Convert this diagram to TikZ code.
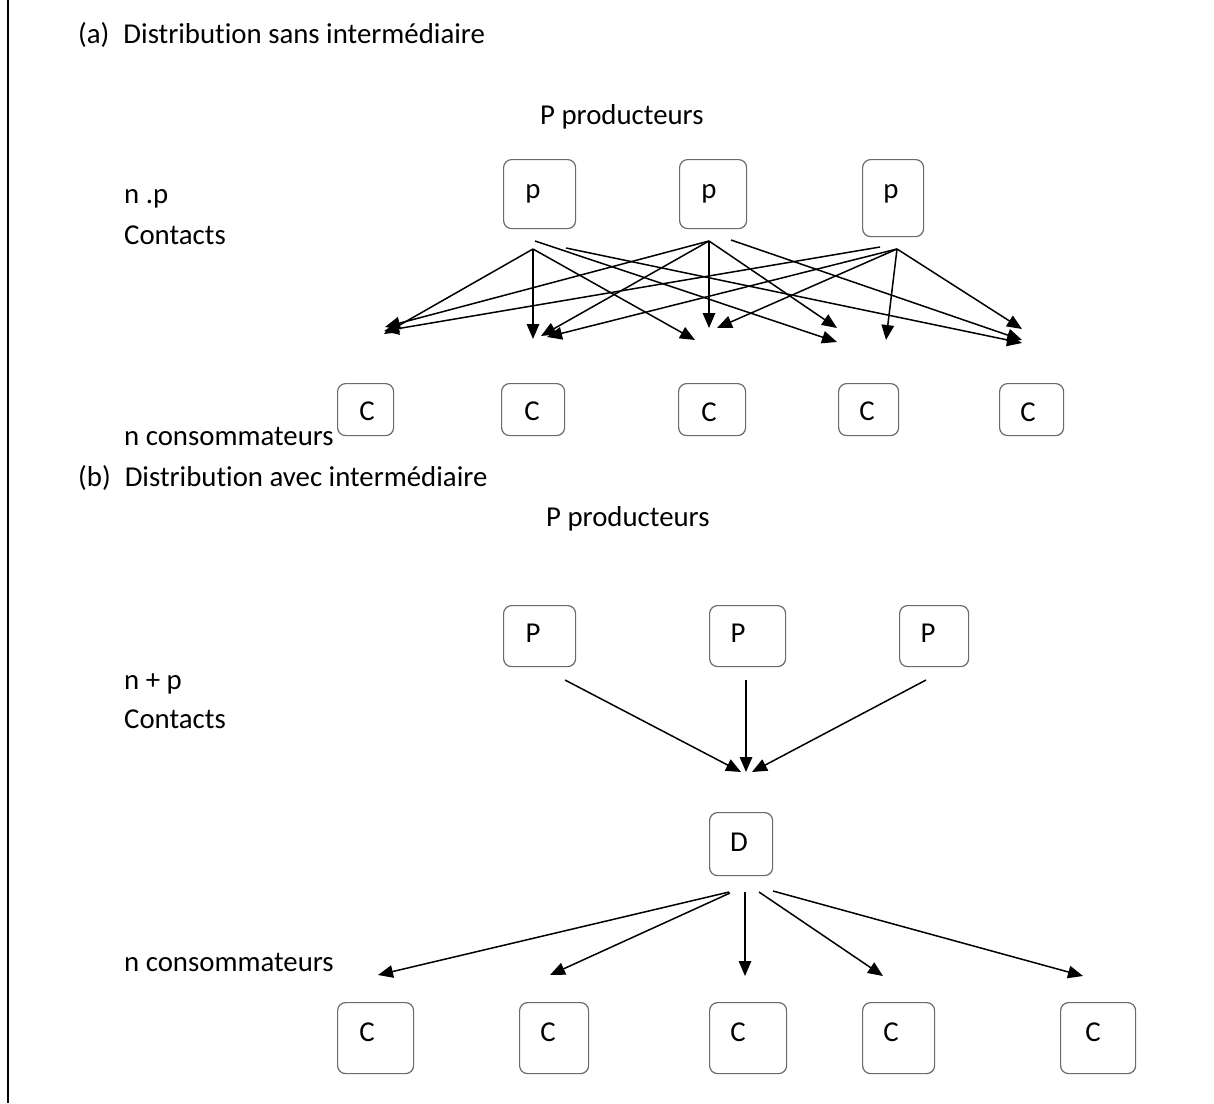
\documentclass[tikz,border=0pt]{standalone}
\usepackage{fontspec}
\setmainfont{Carlito}[Ligatures={NoCommon}]
\usetikzlibrary{arrows.meta,calc}
\begin{document}
\begin{tikzpicture}[x=1pt,y=-1pt,
  every node/.style={font=\fontsize{28.8}{34}\selectfont, inner sep=0pt},
  lbl/.style={anchor=base west},
  box/.style={draw=black!58, line width=1.2pt, rounded corners=8pt, anchor=north west},
  arr/.style={line width=1.5pt, -{Triangle[length=15pt,width=12.5pt]}}]
\useasboundingbox (0,0) rectangle (1214,1103);
\draw[line width=1.6pt] (8,0) coordinate (lt) -- (8,1103) coordinate (lb);

% ---------------- (a)
\node[lbl] (ta) at (78,43) {(a)\hspace{14pt}Distribution sans intermédiaire};
\node[lbl] (pa) at (540,124) {P producteurs};
\node[lbl] (npa) at (124,203) {n .p};
\node[lbl] (ca) at (124,244) {Contacts};
\node[lbl] (nca) at (124,445) {n consommateurs};

\node[box, minimum width=72pt, minimum height=69pt] (P1) at (503,159) {};
\node[box, minimum width=67pt, minimum height=69pt] (P2) at (679,159) {};
\node[box, minimum width=61pt, minimum height=77pt] (P3) at (862,159) {};
\node (P1t) at ($(P1.north west)+(30,35)$) {p};
\node (P2t) at ($(P2.north west)+(30,35)$) {p};
\node (P3t) at ($(P3.north west)+(29,35)$) {p};

\node[box, minimum width=56pt, minimum height=52pt] (C1) at (337,383) {};
\node[box, minimum width=63pt, minimum height=52pt] (C2) at (501,383) {};
\node[box, minimum width=67pt, minimum height=52pt] (C3) at (678,383) {};
\node[box, minimum width=60pt, minimum height=52pt] (C4) at (838,383) {};
\node[box, minimum width=64pt, minimum height=52pt] (C5) at (999,383) {};
\node (C1t) at ($(C1.north west)+(30,28)$) {C};
\node (C2t) at ($(C2.north west)+(31,28)$) {C};
\node (C3t) at ($(C3.north west)+(31,29)$) {C};
\node (C4t) at ($(C4.north west)+(29,28)$) {C};
\node (C5t) at ($(C5.north west)+(29,29)$) {C};

% start points
\coordinate (s1a) at (533,249);
\coordinate (s1b) at (535,241);
\coordinate (s1c) at (566,248);
\coordinate (s2a) at (709,241);
\coordinate (s2b) at (731,240);
\coordinate (s3a) at (897,249);
\coordinate (s3b) at (880,247);
% end points
\coordinate (e11) at (384,334);
\coordinate (e12) at (533,339);
\coordinate (e13) at (695,340);
\coordinate (e14) at (837,342);
\coordinate (e15) at (1022,343);
\coordinate (e21) at (385,327);
\coordinate (e22) at (541,336);
\coordinate (e23) at (709,328);
\coordinate (e24) at (837,328);
\coordinate (e25) at (1022,340);
\coordinate (e31) at (384,331);
\coordinate (e32) at (547,337);
\coordinate (e33) at (717,328);
\coordinate (e34) at (886,340);
\coordinate (e35) at (1022,329);

\draw[arr] (s1a) -- (e11);
\draw[arr] (s1a) -- (e12);
\draw[arr] (s1a) -- (e13);
\draw[arr] (s1b) -- (e14);
\draw[arr] (s1c) -- (e15);
\draw[arr] (s2a) -- (e21);
\draw[arr] (s2a) -- (e22);
\draw[arr] (s2a) -- (e23);
\draw[arr] (s2a) -- (e24);
\draw[arr] (s2b) -- (e25);
\draw[arr] (s3b) -- (e31);
\draw[arr] (s3a) -- (e32);
\draw[arr] (s3a) -- (e33);
\draw[arr] (s3a) -- (e34);
\draw[arr] (s3a) -- (e35);

% ---------------- (b)
\node[lbl] (tb) at (78,486) {(b)\hspace{14pt}Distribution avec intermédiaire};
\node[lbl] (pb) at (546,526) {P producteurs};
\node[lbl] (npb) at (124,689) {n + p};
\node[lbl] (cb) at (124,728) {Contacts};
\node[lbl] (ncb) at (124,971) {n consommateurs};

\node[box, minimum width=72pt, minimum height=61pt] (Q1) at (503,605) {};
\node[box, minimum width=76pt, minimum height=61pt] (Q2) at (709,605) {};
\node[box, minimum width=69pt, minimum height=61pt] (Q3) at (899,605) {};
\node (Q1t) at ($(Q1.north west)+(30,28)$) {P};
\node (Q2t) at ($(Q2.north west)+(29,28)$) {P};
\node (Q3t) at ($(Q3.north west)+(29,28)$) {P};

\node[box, minimum width=63pt, minimum height=63pt] (D) at (709,812) {};
\node (Dt) at ($(D.north west)+(30,30)$) {D};

\node[box, minimum width=76pt, minimum height=71pt] (K1) at (337,1002) {};
\node[box, minimum width=69pt, minimum height=71pt] (K2) at (519,1002) {};
\node[box, minimum width=77pt, minimum height=71pt] (K3) at (709,1002) {};
\node[box, minimum width=72pt, minimum height=71pt] (K4) at (862,1002) {};
\node[box, minimum width=75pt, minimum height=71pt] (K5) at (1060,1002) {};
\node (K1t) at ($(K1.north west)+(30,30)$) {C};
\node (K2t) at ($(K2.north west)+(29,30)$) {C};
\node (K3t) at ($(K3.north west)+(29,30)$) {C};
\node (K4t) at ($(K4.north west)+(29,30)$) {C};
\node (K5t) at ($(K5.north west)+(33,30)$) {C};

\coordinate (q1s) at (565,680);
\coordinate (q2s) at (746,680);
\coordinate (q3s) at (926,680);
\coordinate (q1e) at (741,772);
\coordinate (q2e) at (746,772);
\coordinate (q3e) at (752,772);
\draw[arr] (q1s) -- (q1e);
\draw[arr] (q2s) -- (q2e);
\draw[arr] (q3s) -- (q3e);

\coordinate (d1s) at (729,892);
\coordinate (d2s) at (730,893);
\coordinate (d3s) at (745,892);
\coordinate (d4s) at (759,892);
\coordinate (d5s) at (773,891);
\coordinate (d1e) at (378,975);
\coordinate (d2e) at (550,975);
\coordinate (d3e) at (745,976);
\coordinate (d4e) at (883,976);
\coordinate (d5e) at (1083,976);
\draw[arr] (d1s) -- (d1e);
\draw[arr] (d2s) -- (d2e);
\draw[arr] (d3s) -- (d3e);
\draw[arr] (d4s) -- (d4e);
\draw[arr] (d5s) -- (d5e);
\end{tikzpicture}
\end{document}
